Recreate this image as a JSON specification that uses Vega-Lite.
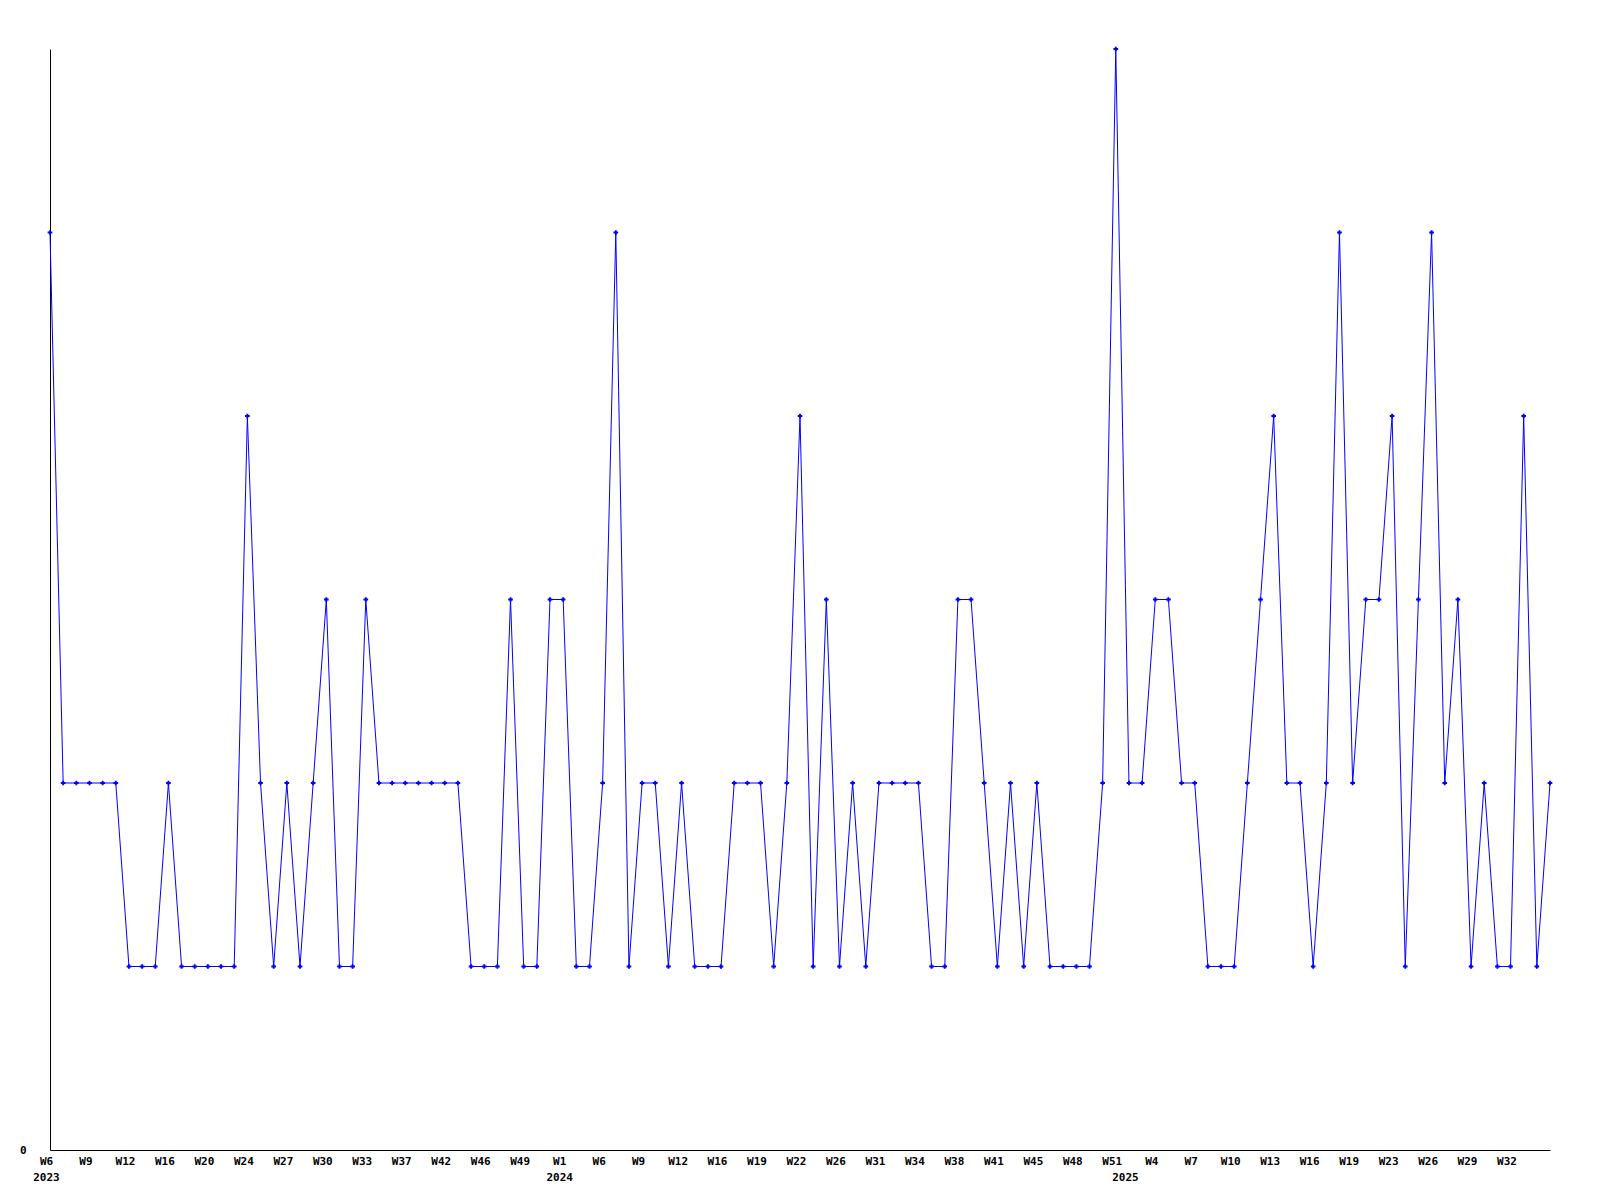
{
  "$schema": "https://vega.github.io/schema/vega-lite/v6.json",
  "width": 1500,
  "height": 1101,
  "autosize": {"type": "none"},
  "padding": {"left": 50, "top": 49, "right": 50, "bottom": 50},
  "background": "white",
  "config": {"view": {"stroke": null}},
  "data": {"values": [
    {"wk":"2023-W06","v":5},{"wk":"2023-W07","v":2},{"wk":"2023-W08","v":2},{"wk":"2023-W09","v":2},{"wk":"2023-W10","v":2},
    {"wk":"2023-W11","v":2},{"wk":"2023-W12","v":1},{"wk":"2023-W13","v":1},{"wk":"2023-W14","v":1},{"wk":"2023-W16","v":2},
    {"wk":"2023-W17","v":1},{"wk":"2023-W18","v":1},{"wk":"2023-W20","v":1},{"wk":"2023-W21","v":1},{"wk":"2023-W22","v":1},
    {"wk":"2023-W24","v":4},{"wk":"2023-W25","v":2},{"wk":"2023-W26","v":1},{"wk":"2023-W27","v":2},{"wk":"2023-W28","v":1},
    {"wk":"2023-W29","v":2},{"wk":"2023-W30","v":3},{"wk":"2023-W31","v":1},{"wk":"2023-W32","v":1},{"wk":"2023-W33","v":3},
    {"wk":"2023-W34","v":2},{"wk":"2023-W35","v":2},{"wk":"2023-W37","v":2},{"wk":"2023-W38","v":2},{"wk":"2023-W40","v":2},
    {"wk":"2023-W42","v":2},{"wk":"2023-W43","v":2},{"wk":"2023-W44","v":1},{"wk":"2023-W46","v":1},{"wk":"2023-W47","v":1},
    {"wk":"2023-W48","v":3},{"wk":"2023-W49","v":1},{"wk":"2023-W50","v":1},{"wk":"2023-W52","v":3},{"wk":"2024-W01","v":3},
    {"wk":"2024-W02","v":1},{"wk":"2024-W04","v":1},{"wk":"2024-W06","v":2},{"wk":"2024-W07","v":5},{"wk":"2024-W08","v":1},
    {"wk":"2024-W09","v":2},{"wk":"2024-W10","v":2},{"wk":"2024-W11","v":1},{"wk":"2024-W12","v":2},{"wk":"2024-W13","v":1},
    {"wk":"2024-W14","v":1},{"wk":"2024-W16","v":1},{"wk":"2024-W17","v":2},{"wk":"2024-W18","v":2},{"wk":"2024-W19","v":2},
    {"wk":"2024-W20","v":1},{"wk":"2024-W21","v":2},{"wk":"2024-W22","v":4},{"wk":"2024-W23","v":1},{"wk":"2024-W25","v":3},
    {"wk":"2024-W26","v":1},{"wk":"2024-W27","v":2},{"wk":"2024-W29","v":1},{"wk":"2024-W31","v":2},{"wk":"2024-W32","v":2},
    {"wk":"2024-W33","v":2},{"wk":"2024-W34","v":2},{"wk":"2024-W35","v":1},{"wk":"2024-W37","v":1},{"wk":"2024-W38","v":3},
    {"wk":"2024-W39","v":3},{"wk":"2024-W40","v":2},{"wk":"2024-W41","v":1},{"wk":"2024-W42","v":2},{"wk":"2024-W44","v":1},
    {"wk":"2024-W45","v":2},{"wk":"2024-W46","v":1},{"wk":"2024-W47","v":1},{"wk":"2024-W48","v":1},{"wk":"2024-W49","v":1},
    {"wk":"2024-W50","v":2},{"wk":"2024-W51","v":6},{"wk":"2025-W01","v":2},{"wk":"2025-W02","v":2},{"wk":"2025-W04","v":3},
    {"wk":"2025-W05","v":3},{"wk":"2025-W06","v":2},{"wk":"2025-W07","v":2},{"wk":"2025-W08","v":1},{"wk":"2025-W09","v":1},
    {"wk":"2025-W10","v":1},{"wk":"2025-W11","v":2},{"wk":"2025-W12","v":3},{"wk":"2025-W13","v":4},{"wk":"2025-W14","v":2},
    {"wk":"2025-W15","v":2},{"wk":"2025-W16","v":1},{"wk":"2025-W17","v":2},{"wk":"2025-W18","v":5},{"wk":"2025-W19","v":2},
    {"wk":"2025-W20","v":3},{"wk":"2025-W22","v":3},{"wk":"2025-W23","v":4},{"wk":"2025-W24","v":1},{"wk":"2025-W25","v":3},
    {"wk":"2025-W26","v":5},{"wk":"2025-W27","v":2},{"wk":"2025-W28","v":3},{"wk":"2025-W29","v":1},{"wk":"2025-W30","v":2},
    {"wk":"2025-W31","v":1},{"wk":"2025-W32","v":1},{"wk":"2025-W33","v":4},{"wk":"2025-W34","v":1},{"wk":"2025-W35","v":2}
  ]},
  "encoding": {
    "x": {
      "field": "wk", "type": "ordinal", "sort": null,
      "scale": {"type": "point", "padding": 0},
      "axis": {
        "title": null, "ticks": false, "grid": false,
        "domainColor": "black", "domainWidth": 1,
        "labelAngle": 0, "labelFont": "DejaVu Sans Mono", "labelFontWeight": "bold", "labelFontSize": 11,
        "labelColor": "black", "labelPadding": 5, "labelOffset": -4, "labelLineHeight": 16, "labelOverlap": false,
        "values": ["2023-W06","2023-W09","2023-W12","2023-W16","2023-W20","2023-W24","2023-W27","2023-W30","2023-W33","2023-W37","2023-W42","2023-W46","2023-W49","2024-W01","2024-W06","2024-W09","2024-W12","2024-W16","2024-W19","2024-W22","2024-W26","2024-W31","2024-W34","2024-W38","2024-W41","2024-W45","2024-W48","2024-W51","2025-W01","2025-W04","2025-W07","2025-W10","2025-W13","2025-W16","2025-W19","2025-W23","2025-W26","2025-W29","2025-W32"],
        "labelExpr": "datum.value == '2023-W06' ? ['W6','2023'] : datum.value == '2024-W01' ? ['W1','2024'] : datum.value == '2025-W01' ? ['','2025'] : 'W' + toNumber(substring(datum.value, 6))"
      }
    },
    "y": {
      "field": "v", "type": "quantitative",
      "scale": {"domain": [0, 6], "nice": false, "zero": true},
      "axis": {
        "title": null, "ticks": false, "grid": false, "values": [0],
        "domainColor": "black", "domainWidth": 1,
        "labelFont": "DejaVu Sans Mono", "labelFontWeight": "bold", "labelFontSize": 11,
        "labelColor": "black", "labelPadding": 24
      }
    }
  },
  "layer": [
    {"mark": {"type": "line", "color": "#0000ff", "strokeWidth": 1, "interpolate": "linear"}},
    {"mark": {"type": "point", "shape": "cross", "size": 22, "filled": true, "color": "#0000ff", "opacity": 1}}
  ]
}
